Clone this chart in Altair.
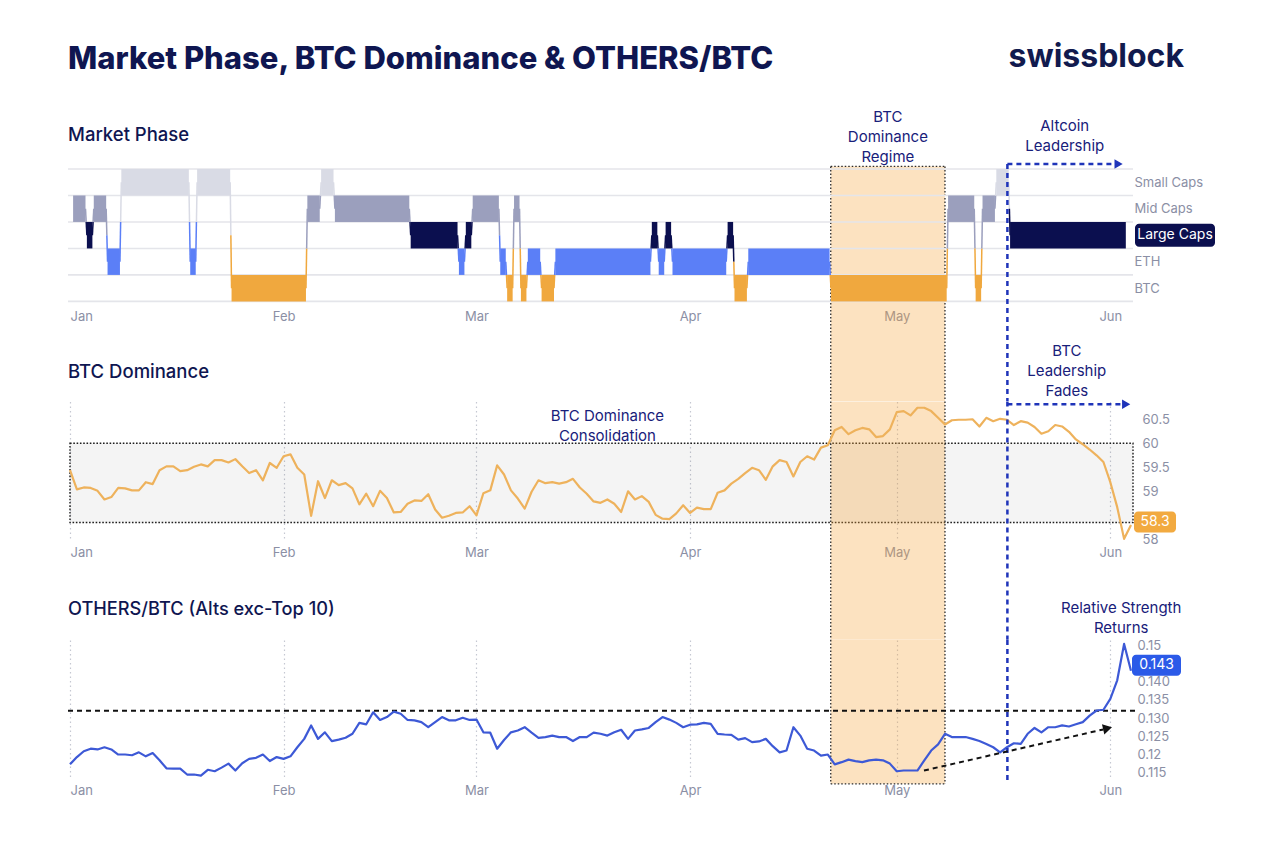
import altair as alt
import pandas as pd

# ---------------------------------------------------------------- time base
START = pd.Timestamp("2025-01-01")


def iso(day):
    """Day offset from Jan 1 (may be fractional) -> UTC ISO string."""
    return (START + pd.Timedelta(days=float(day))).strftime("%Y-%m-%dT%H:%M:%SZ")


MONTH_TICKS = [1, 2, 3, 4, 5, 6]

# ---------------------------------------------------------------- layout
W = 1063
H1, H2, H3 = 132.4, 138.8, 139.0
GAP = 99.5

NAVY = "#0f1651"
INK = "#18207a"
GREY_TXT = "#8b8fa5"
BLUE = "#1f34b9"
PEACH = "#f5a43a"

# ---------------------------------------------------------------- market phase
PHASE_ROWS = ["BTC", "ETH", "Large Caps", "Mid Caps", "Small Caps"]  # bottom -> top
PHASE_COLORS = ["#f0a83e", "#5b7ff7", "#0b0f4f", "#9b9fbd", "#d9dbe5"]
BADGE_ROW = "Large Caps"

RUN_PHASE = ["Mid Caps", "Large Caps", "Mid Caps", "ETH", "Small Caps", "ETH",
             "Small Caps", "BTC", "Mid Caps", "Small Caps", "Mid Caps", "Large Caps",
             "ETH", "Large Caps", "Mid Caps", "ETH", "BTC", "Mid Caps", "BTC", "ETH",
             "BTC", "ETH", "Large Caps", "ETH", "Large Caps", "ETH", "Large Caps",
             "BTC", "ETH", "BTC", "Mid Caps", "BTC", "Mid Caps", "Small Caps",
             "Large Caps"]
RUN_DAYS = [2, 1, 2, 2, 10, 1, 5, 11, 2, 2, 11, 7, 1, 1, 4, 1, 1, 1, 1, 2, 2, 14,
            1, 1, 1, 8, 1, 2, 12, 17, 4, 1, 2, 2, 17]

# ---------------------------------------------------------------- BTC dominance (daily from Jan 1)
DOM_VALUES = [
    59.44, 59.04, 59.08, 59.07, 59.01, 58.83, 58.88, 59.07, 59.06, 59.02,
    59.02, 59.19, 59.15, 59.44, 59.52, 59.52, 59.42, 59.44, 59.51, 59.56,
    59.52, 59.65, 59.65, 59.60, 59.67, 59.52, 59.38, 59.44, 59.23, 59.59,
    59.49, 59.73, 59.77, 59.49, 59.35, 58.49, 59.21, 58.86, 59.23, 59.13,
    59.17, 59.06, 58.73, 58.95, 58.69, 59.01, 58.86, 58.56, 58.57, 58.74,
    58.81, 58.80, 58.94, 58.62, 58.45, 58.49, 58.55, 58.56, 58.69, 58.50,
    58.96, 59.02, 59.54, 59.35, 59.02, 58.85, 58.64, 58.99, 59.23, 59.17,
    59.19, 59.16, 59.19, 59.26, 59.08, 58.95, 58.79, 58.76, 58.83, 58.74,
    58.57, 59.00, 58.83, 58.90, 58.78, 58.51, 58.43, 58.42, 58.54, 58.71,
    58.55, 58.66, 58.63, 58.63, 58.97, 59.02, 59.16, 59.26, 59.38, 59.49,
    59.44, 59.24, 59.52, 59.65, 59.61, 59.31, 59.61, 59.73, 59.66, 59.91,
    59.96, 60.27, 60.34, 60.19, 60.27, 60.32, 60.29, 60.13, 60.15, 60.29,
    60.65, 60.67, 60.58, 60.74, 60.74, 60.67, 60.53, 60.39, 60.48, 60.49,
    60.49, 60.50, 60.35, 60.53, 60.46, 60.51, 60.49, 60.38, 60.46, 60.43,
    60.34, 60.20, 60.25, 60.38, 60.35, 60.24, 60.08, 59.98, 59.87, 59.75,
    59.61, 59.19, 58.67, 58.01, 58.30,
]
DOM_TICKS = [58, 59, 59.5, 60, 60.5]
DOM_DOMAIN = [57.98, 60.87]
DOM_BAND = (58.35, 60.0)

# ---------------------------------------------------------------- OTHERS/BTC (daily from Jan 1)
OTH_VALUES = [
    0.1173, 0.1193, 0.1209, 0.1216, 0.1214, 0.1220, 0.1214, 0.1200, 0.1200, 0.1198,
    0.1206, 0.1195, 0.1204, 0.1184, 0.1162, 0.1161, 0.1161, 0.1145, 0.1145, 0.1142,
    0.1158, 0.1154, 0.1164, 0.1175, 0.1156, 0.1176, 0.1188, 0.1191, 0.1200, 0.1182,
    0.1193, 0.1188, 0.1195, 0.1220, 0.1243, 0.1280, 0.1243, 0.1261, 0.1237, 0.1241,
    0.1246, 0.1257, 0.1287, 0.1283, 0.1316, 0.1295, 0.1303, 0.1318, 0.1312, 0.1295,
    0.1294, 0.1289, 0.1275, 0.1289, 0.1303, 0.1294, 0.1294, 0.1301, 0.1295, 0.1296,
    0.1261, 0.1260, 0.1216, 0.1240, 0.1261, 0.1266, 0.1275, 0.1260, 0.1246, 0.1248,
    0.1252, 0.1248, 0.1248, 0.1237, 0.1248, 0.1248, 0.1260, 0.1257, 0.1252, 0.1261,
    0.1268, 0.1243, 0.1266, 0.1269, 0.1273, 0.1289, 0.1303, 0.1296, 0.1287, 0.1275,
    0.1282, 0.1283, 0.1287, 0.1284, 0.1257, 0.1255, 0.1254, 0.1241, 0.1245, 0.1234,
    0.1236, 0.1243, 0.1223, 0.1206, 0.1211, 0.1275, 0.1252, 0.1216, 0.1211, 0.1197,
    0.1200, 0.1173, 0.1179, 0.1186, 0.1182, 0.1179, 0.1184, 0.1186, 0.1184, 0.1175,
    0.1154, 0.1156, 0.1156, 0.1156, 0.1184, 0.1211, 0.1228, 0.1257, 0.1248, 0.1248,
    0.1248, 0.1243, 0.1237, 0.1229, 0.1220, 0.1206, 0.1220, 0.1231, 0.1229, 0.1257,
    0.1273, 0.1261, 0.1275, 0.1275, 0.1280, 0.1277, 0.1283, 0.1289, 0.1307, 0.1321,
    0.1323, 0.1353, 0.1404, 0.1504, 0.143,
]
OTH_TICKS = [0.115, 0.12, 0.125, 0.13, 0.135, 0.14, 0.15]
OTH_TICK_LABELS = ["0.115", "0.12", "0.125", "0.130", "0.135", "0.140", "0.15"]
OTH_DOMAIN = [0.11327, 0.15148]
OTH_THRESHOLD = 0.132

# ---------------------------------------------------------------- annotation anchors (days from Jan 1)
REGIME_DAYS = (110.42, 127.0)
ALT_LEAD_DAY = 136.06
TREND_FROM = (123.95, 0.1156)
TREND_TO = (150.0, 0.1269)
TREND_HEAD = (150.6, 0.1272)

# ---------------------------------------------------------------- helpers
XSCALE = alt.Scale(
    type="utc", nice=False,
    domain=[alt.DateTime(year=2025, month=1, date=1, utc=True),
            alt.DateTime(year=2025, month=6, date=4, hours=7, utc=True)],
)


def month_axis(grid, pad):
    return alt.Axis(
        values=[alt.DateTime(year=2025, month=m, date=1, utc=True) for m in MONTH_TICKS],
        labelExpr="utcFormat(datum.value, '%b')", grid=grid, gridColor="#c5c8d2",
        gridDash=[1.5, 3], gridWidth=1.2, ticks=False, domain=False,
        labelPadding=pad, title=None, labelColor=GREY_TXT, labelFontSize=13,
        labelFont="Inter",
    )


ONE = pd.DataFrame({"k": [0]})


def label(content, x, y, size, color, weight=400, align="left",
          baseline="alphabetic", line_height=None, data=None):
    kw = {"lineHeight": line_height} if line_height else {}
    return alt.Chart(ONE if data is None else data).mark_text(
        text=content, font="Inter", fontSize=size, fontWeight=weight,
        color=color, align=align, baseline=baseline, **kw,
    ).encode(x=x, y=alt.value(y))


def regime_layers(X, top, bottom, top_edge=False, bottom_edge=False):
    band = pd.DataFrame({"x0": [iso(REGIME_DAYS[0])], "x1": [iso(REGIME_DAYS[1])]})
    edges = pd.DataFrame({"x": [iso(d) for d in REGIME_DAYS]})
    out = [
        alt.Chart(band).mark_rect(color=PEACH, opacity=0.32).encode(
            x=X("x0"), x2=alt.X2("x1"), y=alt.value(top), y2=alt.value(bottom)),
        alt.Chart(edges).mark_rule(color="#2a2a2a", strokeDash=[1.5, 2], strokeWidth=1.3).encode(
            x=X("x"), y=alt.value(top), y2=alt.value(bottom)),
    ]
    for flag, yy in ((top_edge, top), (bottom_edge, bottom)):
        if flag:
            out.append(alt.Chart(band).mark_rule(color="#2a2a2a", strokeDash=[1.5, 2],
                                                 strokeWidth=1.3).encode(
                x=X("x0"), x2=alt.X2("x1"), y=alt.value(yy)))
    return out


def lead_line(X, top, bottom):
    df = pd.DataFrame({"x": [iso(ALT_LEAD_DAY)]})
    return alt.Chart(df).mark_rule(color=BLUE, strokeDash=[5, 4], strokeWidth=2.5).encode(
        x=X("x"), y=alt.value(top), y2=alt.value(bottom))


def lead_arrow(X, yy, end_day, head_day):
    df = pd.DataFrame({"x0": [iso(ALT_LEAD_DAY)], "x1": [iso(end_day)], "xh": [iso(head_day)]})
    line = alt.Chart(df).mark_rule(color=BLUE, strokeDash=[5, 4], strokeWidth=2.5).encode(
        x=X("x0"), x2=alt.X2("x1"), y=alt.value(yy))
    head = alt.Chart(df).mark_point(shape="triangle-right", filled=True, size=90,
                                    color=BLUE, opacity=1).encode(
        x=X("xh"), y=alt.value(yy))
    return [line, head]


# ================================================================ panel 1: market phase
ax1 = month_axis(False, 9)


def X1(f):
    return alt.X(f, type="temporal", scale=XSCALE, axis=ax1)


row_scale = alt.Scale(domain=[0, len(PHASE_ROWS)], nice=False, zero=False)
row_expr = "''"
for i in reversed(range(len(PHASE_ROWS))):
    name = "" if PHASE_ROWS[i] == BADGE_ROW else PHASE_ROWS[i]
    row_expr = f"datum.value < {i + 1} ? '{name}' : ({row_expr})"
row_axis = alt.Axis(orient="right", values=[i + 0.5 for i in range(len(PHASE_ROWS))],
                    labelExpr=row_expr, grid=False, ticks=False, domain=False,
                    labelPadding=1, title=None, labelColor=GREY_TXT, labelFontSize=13,
                    labelFont="Inter")


def Y1(f):
    return alt.Y(f, type="quantitative", scale=row_scale, axis=row_axis)


runs, steps = [], []
day = 0
prev = None
for ph, n in zip(RUN_PHASE, RUN_DAYS):
    r = PHASE_ROWS.index(ph)
    runs.append({"phase": ph, "x0": iso(day + 0.45), "x1": iso(day + n + 0.25),
                 "y0": r, "y1": r + 1})
    if prev is not None:
        pph, pr = prev
        ym = (pr + r) / 2 + 0.5
        steps.append({"phase": pph, "x0": iso(day + 0.25), "x1": iso(day + 0.35),
                      "y0": pr + 0.5, "y1": ym})
        steps.append({"phase": ph, "x0": iso(day + 0.35), "x1": iso(day + 0.45),
                      "y0": ym, "y1": r + 0.5})
    prev = (ph, r)
    day += n
runs = pd.DataFrame(runs)
steps = pd.DataFrame(steps)
phase_color = alt.Color("phase:N", scale=alt.Scale(domain=PHASE_ROWS, range=PHASE_COLORS),
                        legend=None)

row_lines = pd.DataFrame({"b": list(range(len(PHASE_ROWS) + 1))})
badge1 = pd.DataFrame({"v": [PHASE_ROWS.index(BADGE_ROW) + 0.5]})
regime_mid = pd.DataFrame({"x": [iso(sum(REGIME_DAYS) / 2)]})

p1_layers = regime_layers(X1, -2.6, H1 + GAP, top_edge=True) + [
    alt.Chart(row_lines).mark_rule(color="#e4e5ea", strokeWidth=1.6).encode(
        y=Y1("b"), x=alt.value(-2), x2=alt.value(W)),
    alt.Chart(runs).mark_rect().encode(
        x=X1("x0"), x2=alt.X2("x1"), y=Y1("y0"), y2=alt.Y2("y1"), color=phase_color),
    alt.Chart(steps).mark_rule(strokeWidth=1.5).encode(
        x=X1("x0"), x2=alt.X2("x1"), y=Y1("y0"), y2=alt.Y2("y1"), color=phase_color),
    lead_line(X1, -5, H1 + GAP),
    *lead_arrow(X1, -5, 151.5, 152.2),
    alt.Chart(badge1).mark_rect(yOffset=-11.5, y2Offset=11.5, cornerRadius=4,
                                color="#0b0f4f").encode(
        x=alt.value(W + 2), x2=alt.value(W + 82), y=Y1("v"), y2=alt.Y2("v")),
    alt.Chart(badge1).mark_text(text=BADGE_ROW, font="Inter", fontSize=14,
                                color="white", align="center", baseline="middle").encode(
        x=alt.value(W + 42), y=Y1("v")),
    label("Market Phase, BTC Dominance & OTHERS/BTC", alt.value(-2), -100, 31, NAVY, 800),
    label("swissblock", alt.value(1114), -102, 32, "#111a4e", 700, align="right"),
    label("Market Phase", alt.value(-2), -34.3, 18.5, NAVY, 500, baseline="middle"),
    label(["BTC", "Dominance", "Regime"], X1("x"), -46.8, 15, INK, align="center",
          line_height=20, data=regime_mid),
    label(["Altcoin", "Leadership"], alt.value(994.7), -37.8, 15, INK, align="center",
          line_height=20),
]
p1 = alt.layer(*p1_layers).properties(width=W, height=H1)

# ================================================================ panel 2: BTC dominance
ax2 = month_axis(True, 6)


def X2(f):
    return alt.X(f, type="temporal", scale=XSCALE, axis=ax2)


dom_scale = alt.Scale(domain=DOM_DOMAIN, nice=False, zero=False)
dom_axis = alt.Axis(orient="right", values=DOM_TICKS, labelExpr="'' + datum.value",
                    grid=False, ticks=False, domain=False, labelPadding=9, title=None,
                    labelColor=GREY_TXT, labelFontSize=13, labelFont="Inter")


def Y2(f):
    return alt.Y(f, type="quantitative", scale=dom_scale, axis=dom_axis)


dom = pd.DataFrame({"date": [iso(i) for i in range(len(DOM_VALUES))], "v": DOM_VALUES})
band = pd.DataFrame({"x0": [iso(0)], "x1": [iso(154 + 7 / 24)],
                     "lo": [DOM_BAND[0]], "hi": [DOM_BAND[1]]})
dom_last = pd.DataFrame({"v": [DOM_VALUES[-1]], "t": [f"{DOM_VALUES[-1]:.1f}"]})
consol_x = pd.DataFrame({"x": [iso(78)]})

p2_layers = [
    alt.Chart(band).mark_rect(fill="#000000", fillOpacity=0.045, stroke="#1e1e1e",
                              strokeDash=[1.6, 1.7], strokeWidth=1.4).encode(
        x=X2("x0"), x2=alt.X2("x1"), y=Y2("lo"), y2=alt.Y2("hi")),
] + regime_layers(X2, 0, H2 + GAP) + [
    alt.Chart(dom).mark_line(color="#eeb25c", strokeWidth=2.2, strokeJoin="round").encode(
        x=X2("date"), y=Y2("v")),
    lead_line(X2, 0, H2 + GAP),
    *lead_arrow(X2, 2.8, 152.6, 153.3),
    alt.Chart(dom_last).mark_rect(yOffset=-13.5, y2Offset=7.5, cornerRadius=4,
                                  color="#f2aa40").encode(
        x=alt.value(W + 1), x2=alt.value(W + 43), y=Y2("v"), y2=alt.Y2("v")),
    alt.Chart(dom_last).mark_text(font="Inter", fontSize=14, color="white",
                                  align="center", baseline="middle", dy=-3).encode(
        x=alt.value(W + 22), y=Y2("v"), text="t:N"),
    label("BTC Dominance", alt.value(-2), -29.2, 18.5, NAVY, 500, baseline="middle"),
    label(["BTC", "Leadership", "Fades"], alt.value(996.8), -45.2, 15, INK,
          align="center", line_height=20),
    label(["BTC Dominance", "Consolidation"], X2("x"), 19.3, 15, INK, align="center",
          line_height=20, data=consol_x),
]
p2 = alt.layer(*p2_layers).properties(width=W, height=H2)

# ================================================================ panel 3: OTHERS/BTC
ax3 = month_axis(True, 5)


def X3(f):
    return alt.X(f, type="temporal", scale=XSCALE, axis=ax3)


oth_expr = "''"
for v, t in reversed(list(zip(OTH_TICKS, OTH_TICK_LABELS))):
    oth_expr = f"abs(datum.value - {v}) < 1e-6 ? '{t}' : ({oth_expr})"
oth_scale = alt.Scale(domain=OTH_DOMAIN, nice=False, zero=False)
oth_axis = alt.Axis(orient="right", values=OTH_TICKS, labelExpr=oth_expr, grid=False,
                    ticks=False, domain=False, labelPadding=4, title=None,
                    labelColor=GREY_TXT, labelFontSize=13, labelFont="Inter")


def Y3(f):
    return alt.Y(f, type="quantitative", scale=oth_scale, axis=oth_axis)


oth = pd.DataFrame({"date": [iso(i) for i in range(len(OTH_VALUES))], "v": OTH_VALUES})
oth_last = pd.DataFrame({"v": [OTH_VALUES[-1]], "t": [f"{OTH_VALUES[-1]:.3f}"]})
thr = pd.DataFrame({"v": [OTH_THRESHOLD]})
trend = pd.DataFrame({"x0": [iso(TREND_FROM[0])], "y0": [TREND_FROM[1]],
                      "x1": [iso(TREND_TO[0])], "y1": [TREND_TO[1]],
                      "xh": [iso(TREND_HEAD[0])], "yh": [TREND_HEAD[1]]})

p3_layers = regime_layers(X3, 0, H3 + 4.8, bottom_edge=True) + [
    alt.Chart(thr).mark_rule(color="#111111", strokeDash=[5, 4], strokeWidth=2).encode(
        y=Y3("v"), x=alt.value(-2), x2=alt.value(W + 4)),
    alt.Chart(oth).mark_line(color="#3d59d6", strokeWidth=2.2, strokeJoin="round").encode(
        x=X3("date"), y=Y3("v")),
    lead_line(X3, 0, H3 + 1.5),
    alt.Chart(trend).mark_rule(color="#111111", strokeDash=[5, 4], strokeWidth=2).encode(
        x=X3("x0"), x2=alt.X2("x1"), y=Y3("y0"), y2=alt.Y2("y1")),
    alt.Chart(trend).mark_point(shape="triangle-right", filled=True, size=110,
                                color="#111111", opacity=1, angle=347).encode(
        x=X3("xh"), y=Y3("yh")),
    alt.Chart(oth_last).mark_rect(yOffset=-16, y2Offset=5, cornerRadius=4,
                                  color="#2b5ae8").encode(
        x=alt.value(W - 1), x2=alt.value(W + 48), y=Y3("v"), y2=alt.Y2("v")),
    alt.Chart(oth_last).mark_text(font="Inter", fontSize=14, color="white",
                                  align="center", baseline="middle", dy=-5.5).encode(
        x=alt.value(W + 23.5), y=Y3("v"), text="t:N"),
    label("OTHERS/BTC (Alts exc-Top 10)", alt.value(-2), -30.5, 18.2, NAVY, 500,
          baseline="middle"),
    label(["Relative Strength", "Returns"], alt.value(1051.2), -27, 15, INK,
          align="center", line_height=20),
]
p3 = alt.layer(*p3_layers).properties(width=W, height=H3)

# ================================================================ assemble
chart = (
    alt.vconcat(p1, p2, p3, spacing=GAP, bounds="flush")
    .resolve_scale(x="independent", y="independent", color="independent")
    .resolve_axis(x="independent", y="independent")
    .properties(padding={"left": 67, "top": 41, "right": 10, "bottom": 10},
                background="white")
    .configure_view(stroke=None)
)

chart.save("out.html", embed_options={"renderer": "svg", "actions": False})
